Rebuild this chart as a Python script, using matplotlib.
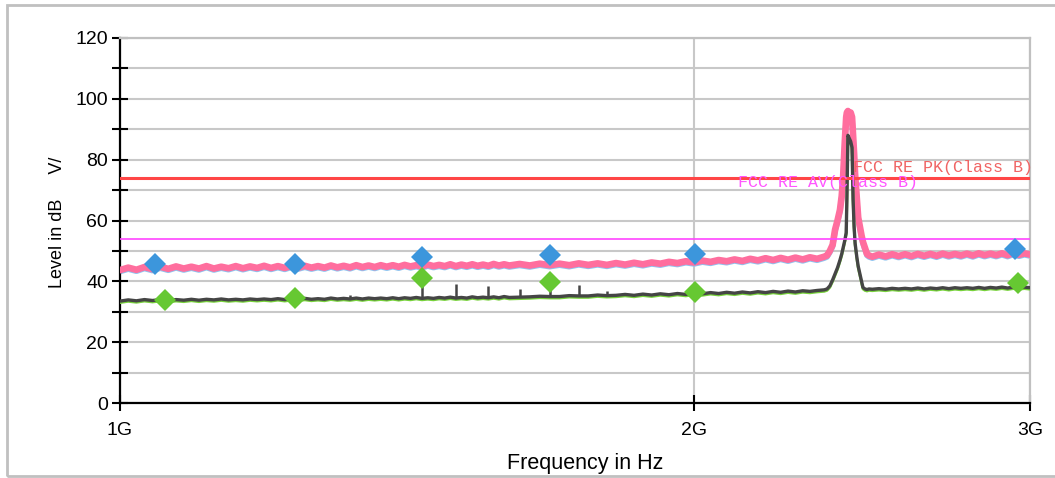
import matplotlib
matplotlib.use("Agg")
import matplotlib.pyplot as plt
from matplotlib.patches import Rectangle
from matplotlib.ticker import NullLocator
from matplotlib.transforms import offset_copy

# sweep frequencies in GHz
freq = [
    1.00, 1.01, 1.02, 1.03, 1.04, 1.05, 1.06, 1.07, 1.08, 1.09,
    1.10, 1.11, 1.12, 1.13, 1.14, 1.15, 1.16, 1.17, 1.18, 1.19,
    1.20, 1.21, 1.22, 1.23, 1.24, 1.25, 1.26, 1.27, 1.28, 1.29,
    1.30, 1.31, 1.32, 1.33, 1.34, 1.35, 1.36, 1.37, 1.38, 1.39,
    1.40, 1.41, 1.42, 1.43, 1.44, 1.45, 1.46, 1.47, 1.48, 1.49,
    1.50, 1.51, 1.52, 1.53, 1.54, 1.55, 1.56, 1.57, 1.58, 1.59, 1.60,
    1.62, 1.64, 1.66, 1.68, 1.70, 1.72, 1.74, 1.76, 1.78, 1.80,
    1.82, 1.84, 1.86, 1.88, 1.90, 1.92, 1.94, 1.96, 1.98, 2.00,
    2.02, 2.04, 2.06, 2.08, 2.10, 2.12, 2.14, 2.16, 2.18, 2.20,
    2.22, 2.24, 2.26, 2.28, 2.30, 2.32, 2.34,
    2.348, 2.356, 2.364, 2.371, 2.378, 2.385, 2.390, 2.394, 2.399, 2.403,
    2.405, 2.408, 2.412, 2.416, 2.420, 2.423, 2.426, 2.429, 2.434, 2.438,
    2.443, 2.448, 2.452, 2.458, 2.464, 2.470,
    2.48, 2.50, 2.52, 2.54, 2.56, 2.58, 2.60, 2.62, 2.64, 2.66,
    2.68, 2.70, 2.72, 2.74, 2.76, 2.78, 2.80, 2.82, 2.84, 2.86,
    2.88, 2.90, 2.92, 2.94, 2.96, 2.98, 3.00,
]

# peak detector trace (dBuV/m)
pk_level = [
    43.7, 44.5, 43.8, 44.7, 44.0, 44.8, 44.1, 44.9, 44.2, 44.8,
    44.2, 45.0, 44.2, 44.8, 44.3, 45.0, 44.3, 44.9, 44.4, 45.1,
    44.4, 45.0, 44.4, 45.1, 44.5, 45.1, 44.5, 45.0, 44.5, 45.2,
    44.6, 45.1, 44.6, 45.3, 44.7, 45.2, 44.7, 45.3, 44.8, 45.3,
    44.8, 45.4, 44.9, 45.3, 44.9, 45.5, 45.0, 45.4, 45.0, 45.6,
    45.0, 45.5, 45.1, 45.6, 45.1, 45.5, 45.1, 45.7, 45.2, 45.6, 45.2,
    45.7, 45.2, 45.8, 45.3, 45.8, 45.3, 45.9, 45.4, 45.9, 45.4,
    46.0, 45.5, 46.1, 45.6, 46.2, 45.8, 46.4, 46.0, 46.6, 46.2,
    46.8, 46.4, 47.0, 46.6, 47.2, 46.7, 47.4, 46.9, 47.6, 47.0,
    47.7, 47.1, 47.8, 47.2, 47.9, 47.4, 48.1,
    48.5, 50.0, 52.0, 57.0, 60.0, 63.5, 68.0, 74.0, 86.0, 94.0,
    95.5, 96.0, 95.0, 95.5, 94.0, 88.0, 82.0, 75.0, 67.0, 61.0,
    58.0, 55.0, 53.0, 51.0, 49.0, 48.5,
    48.1, 48.8, 48.2, 48.9, 48.3, 48.9, 48.3, 49.0, 48.4, 49.0,
    48.4, 49.1, 48.5, 49.0, 48.5, 49.1, 48.5, 49.2, 48.6, 49.1,
    48.6, 49.2, 48.6, 49.3, 48.7, 49.2, 48.8,
]

# average detector trace (dBuV/m)
av_level = [
    33.5, 33.9, 33.6, 34.0, 33.7, 34.0, 33.7, 34.0, 33.8, 34.1,
    33.8, 34.1, 33.9, 34.2, 33.9, 34.1, 33.9, 34.2, 34.0, 34.2,
    34.0, 34.3, 34.0, 34.3, 34.1, 34.4, 34.1, 34.3, 34.1, 34.5,
    34.2, 34.4, 34.2, 34.5, 34.2, 34.5, 34.3, 34.5, 34.3, 34.6,
    34.3, 34.6, 34.4, 34.7, 34.4, 34.6, 34.4, 34.7, 34.5, 34.8,
    34.5, 34.7, 34.5, 34.9, 34.6, 34.8, 34.6, 34.9, 34.6, 35.0, 34.7,
    34.8, 34.9, 35.1, 35.0, 35.0, 35.3, 35.2, 35.2, 35.5, 35.3,
    35.4, 35.7, 35.4, 35.8, 35.5, 35.9, 35.6, 36.0, 35.7, 36.1,
    35.9, 36.3, 36.0, 36.4, 36.1, 36.5, 36.2, 36.6, 36.3, 36.7,
    36.4, 36.8, 36.5, 36.9, 36.7, 37.0, 37.2,
    37.5, 38.5, 40.5, 42.5, 44.5, 47.0, 49.0, 51.0, 53.5, 56.0,
    67.0, 88.0, 87.0, 86.0, 84.0, 67.0, 58.0, 52.5, 48.0, 45.0,
    42.5, 40.0, 38.0, 37.5, 37.3, 37.5,
    37.4, 37.6, 37.4, 37.7, 37.5, 37.7, 37.5, 37.8, 37.5, 37.8,
    37.6, 37.9, 37.6, 37.9, 37.7, 37.9, 37.7, 38.0, 37.7, 38.0,
    37.8, 38.1, 37.8, 38.1, 37.9, 38.1, 37.9,
]

# narrow spurs on the average trace
spur_f = [1.32, 1.44, 1.50, 1.56, 1.62, 1.68, 1.74, 1.80]
spur_base = [34.2, 34.4, 34.5, 34.6, 34.8, 35.0, 35.2, 35.3]
spur_top = [35.6, 40.0, 39.0, 38.5, 37.6, 38.0, 38.8, 36.8]

# final measurement points
pk_mark_f = [1.043, 1.235, 1.440, 1.681, 2.002, 2.946]
pk_mark_v = [45.6, 45.6, 47.9, 48.6, 48.9, 50.6]
av_mark_f = [1.056, 1.235, 1.440, 1.681, 2.002, 2.957]
av_mark_v = [33.7, 34.4, 41.0, 39.7, 36.4, 39.3]

# limits
pk_limit = 74
av_limit = 54

fig = plt.figure(figsize=(10.55, 4.78), dpi=100)
ax = fig.add_axes([120/1055, 75/478, 910/1055, 365/478])

ax.set_xscale("log")
ax.set_xlim(1.0, 3.0)
ax.set_ylim(0, 120)

ax.set_yticks(range(0, 121, 20))
ax.set_yticks(range(10, 120, 20), minor=True)
ax.set_xticks([1, 2, 3])
ax.set_xticklabels(["1G", "2G", "3G"])
ax.xaxis.set_minor_locator(NullLocator())

ax.grid(True, which="both", axis="y", color="#C8C8C8", lw=1.5, zorder=0)
ax.grid(True, which="major", axis="x", color="#C8C8C8", lw=1.5, zorder=0)
ax.set_axisbelow(True)

for s in ["left", "bottom"]:
    ax.spines[s].set_color("black")
    ax.spines[s].set_linewidth(1.6)
for s in ["top", "right"]:
    ax.spines[s].set_color("#C0C0C0")
    ax.spines[s].set_linewidth(1.6)

ax.tick_params(which="both", direction="inout", length=11, width=1.5,
               labelsize=14, color="black", pad=3)
ax.tick_params(axis="x", pad=8)
for lab in ax.get_xticklabels() + ax.get_yticklabels():
    lab.set_fontfamily("Liberation Sans")

# traces (under-traces shifted a little so they peek out below)
below = offset_copy(ax.transData, fig=fig, x=0, y=-1.5, units="dots")
ax.plot(freq, pk_level, color="#8EC4F0", lw=4.0, zorder=2, transform=below)
ax.plot(freq, pk_level, color="#FF6E9E", lw=4.8, zorder=3)
ax.plot(freq, av_level, color="#78D23C", lw=2.0, zorder=4, transform=below)
ax.plot(freq, av_level, color="#454545", lw=2.4, zorder=5)
ax.vlines(spur_f, spur_base, spur_top, color="#454545", lw=1.8, zorder=5)

# limit lines
ax.axhline(pk_limit, color="#FF4646", lw=2.2, zorder=6)
ax.axhline(av_limit, color="#FF44FF", lw=1.2, zorder=6)
ax.text(2.423, 75, "FCC RE PK(Class B)", color="#F06464", fontsize=12,
        family="Liberation Mono", va="bottom", ha="left", zorder=8, clip_on=False)
ax.text(2.109, 70.0, "FCC RE AV(Class B)", color="#FF55FF", fontsize=12,
        family="Liberation Mono", va="bottom", ha="left", zorder=8)

# markers
ax.plot(pk_mark_f, pk_mark_v, "D", color="#3C96DC", ms=11, mew=0, zorder=7)
ax.plot(av_mark_f, av_mark_v, "D", color="#66C832", ms=11, mew=0, zorder=7)

fig.text(585/1055, 1 - 463/478, "Frequency in Hz", fontsize=15.5,
         family="Liberation Sans", ha="center", va="center")
fig.text(57/1055, 1 - 222/478, "Level in dB     V/", fontsize=13,
         family="Liberation Sans", ha="center", va="center", rotation=90)

# outer frame
fig.add_artist(Rectangle((7/1055, 2/478), 1.2, 471/478, transform=fig.transFigure,
                         fill=False, ec="#C0C0C0", lw=2, clip_on=False))

fig.savefig("out.png", dpi=100)
